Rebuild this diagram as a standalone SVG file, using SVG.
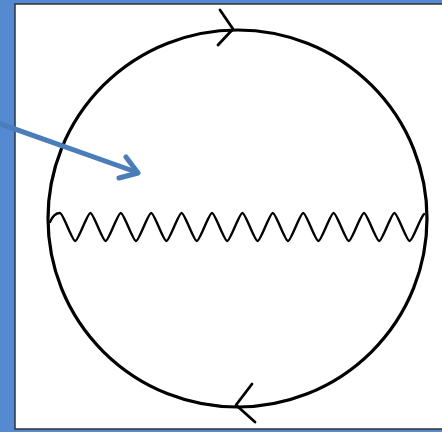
<svg xmlns="http://www.w3.org/2000/svg" width="442" height="432" viewBox="0 0 442 432">
  <defs>
    <style>
      .ink { fill: none; stroke: #000; stroke-linecap: round; stroke-linejoin: round; }
      .blue { fill: none; stroke: #4a7ebb; stroke-width: 5; stroke-linecap: round; stroke-linejoin: round; }
    </style>
  </defs>
  <rect x="0" y="0" width="442" height="432" fill="#5589d0"/>
  <rect x="15" y="4" width="430" height="425" fill="#fff" stroke="#333" stroke-width="1.5"/>
  <g id="loop">
    <ellipse cx="237.5" cy="218.5" rx="189.5" ry="188.5" class="ink" stroke-width="3.2"/>
  </g>
  <g id="propagator">
    <path class="ink" stroke-width="2.4" d="M50,222 C53,215 56,213 60,213
      c3,0 12.2,28 15.2,28 c3,0 12.2,-28 15.2,-28
      c3,0 12.2,28 15.2,28 c3,0 12.2,-28 15.2,-28
      c3,0 12.2,28 15.2,28 c3,0 12.2,-28 15.2,-28
      c3,0 12.2,28 15.2,28 c3,0 12.2,-28 15.2,-28
      c3,0 12.2,28 15.2,28 c3,0 12.2,-28 15.2,-28
      c3,0 12.2,28 15.2,28 c3,0 12.2,-28 15.2,-28
      c3,0 12.2,28 15.2,28 c3,0 12.2,-28 15.2,-28
      c3,0 12.2,28 15.2,28 c3,0 12.2,-28 15.2,-28
      c3,0 12.2,28 15.2,28 c3,0 12.2,-28 15.2,-28
      c3,0 12.2,28 15.2,28 c3,0 12.2,-28 15.2,-28
      c3,0 12.2,28 15.2,28 c3,0 12.2,-28 15.2,-28
      c3,0 12.2,28 15.2,28 c3,0 10,-22 14.4,-27"/>
  </g>
  <g id="connectors">
    <polyline class="ink" stroke-width="2.8" points="220,10 233,29 218,45"/>
    <polyline class="ink" stroke-width="2.8" points="252,384 236,405 255,422"/>
    <line class="blue" x1="-5" y1="122" x2="136" y2="172"/>
    <polyline class="blue" points="126,157 138,173 119,178"/>
  </g>
</svg>
